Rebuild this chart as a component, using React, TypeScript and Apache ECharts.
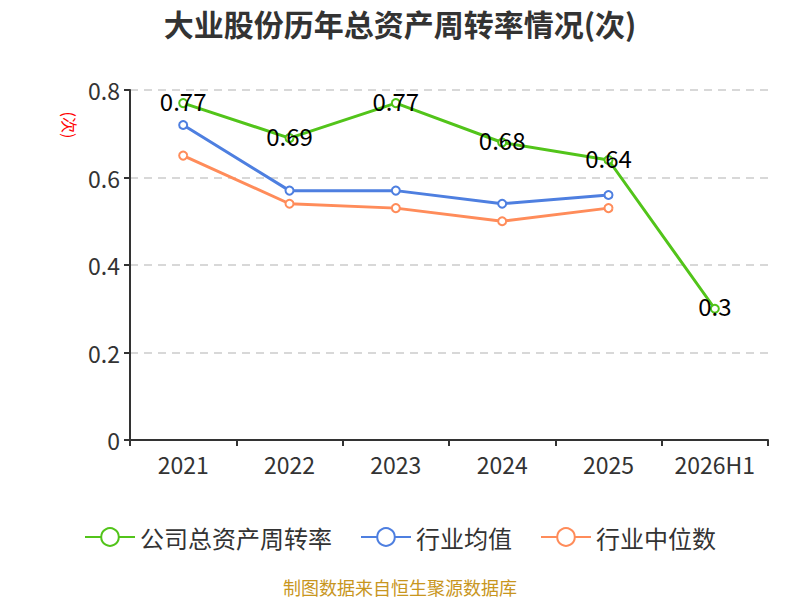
import React, { useEffect, useRef } from "react";
import * as echarts from "echarts";

const categories = ["2021", "2022", "2023", "2024", "2025", "2026H1"];
const companyValues = [0.77, 0.69, 0.77, 0.68, 0.64, 0.3];
const industryAvg = [0.72, 0.57, 0.57, 0.54, 0.56, null];
const industryMedian = [0.65, 0.54, 0.53, 0.5, 0.53, null];
const yTicks = [0, 0.2, 0.4, 0.6, 0.8];

const FONT = "'Noto Sans CJK SC', 'Noto Sans', sans-serif";

export default function App() {
  const ref = useRef<HTMLDivElement>(null);
  useEffect(() => {
    document.body.style.margin = "0";
    const chart = echarts.init(ref.current!, null, { renderer: "svg" });
    chart.setOption({
      animation: false,
      textStyle: { fontFamily: FONT },
      title: {
        text: "大业股份历年总资产周转率情况(次)",
        left: "center",
        top: 3,
        textStyle: { fontSize: 30, fontWeight: "bold", color: "#333", fontFamily: FONT },
      },
      grid: { left: 130, right: 32, top: 90, bottom: 160 },
      legend: {
        bottom: 46,
        left: "center",
        itemWidth: 50,
        itemHeight: 22,
        itemGap: 28,
        textStyle: { fontSize: 24, color: "#333", fontFamily: FONT },
        data: ["公司总资产周转率", "行业均值", "行业中位数"],
      },
      xAxis: {
        type: "category",
        data: categories,
        boundaryGap: true,
        axisLine: { lineStyle: { color: "#333", width: 2 } },
        axisTick: { show: true, length: 6, lineStyle: { color: "#333", width: 2 } },
        axisLabel: { fontSize: 23, color: "#333", margin: 12 },
      },
      yAxis: {
        type: "value",
        min: yTicks[0],
        max: yTicks[yTicks.length - 1],
        interval: 0.2,
        axisLine: { show: true, lineStyle: { color: "#333", width: 2 } },
        axisTick: { show: true, length: 6, lineStyle: { color: "#333", width: 2 } },
        axisLabel: { fontSize: 23, color: "#333", margin: 10 },
        splitLine: { lineStyle: { type: [8, 6], color: "#ccc", width: 1.5 } },
      },
      graphic: [
        {
          type: "text",
          x: 70,
          y: 125,
          rotation: -Math.PI / 2,
          style: {
            text: "(次)",
            fill: "red",
            fontSize: 16,
            fontFamily: FONT,
            align: "center",
            verticalAlign: "middle",
          },
        },
        {
          type: "text",
          x: 400,
          y: 587,
          style: {
            text: "制图数据来自恒生聚源数据库",
            fill: "#c8961e",
            fontSize: 18,
            fontFamily: FONT,
            align: "center",
            verticalAlign: "middle",
          },
        },
      ],
      series: [
        {
          name: "公司总资产周转率",
          type: "line",
          data: companyValues,
          symbol: "emptyCircle",
          symbolSize: 8,
          itemStyle: { color: "#52c41a" },
          lineStyle: { width: 3, color: "#52c41a" },
          label: {
            show: true,
            position: "inside",
            offset: [0, -3],
            fontSize: 24,
            color: "#000",
            fontFamily: FONT,
          },
          z: 3,
        },
        {
          name: "行业均值",
          type: "line",
          data: industryAvg,
          symbol: "emptyCircle",
          symbolSize: 8,
          itemStyle: { color: "#4e7fe0" },
          lineStyle: { width: 3, color: "#4e7fe0" },
        },
        {
          name: "行业中位数",
          type: "line",
          data: industryMedian,
          symbol: "emptyCircle",
          symbolSize: 8,
          itemStyle: { color: "#ff8c5a" },
          lineStyle: { width: 3, color: "#ff8c5a" },
        },
      ],
    });
    return () => chart.dispose();
  }, []);
  return <div ref={ref} style={{ width: 800, height: 600 }} />;
}
